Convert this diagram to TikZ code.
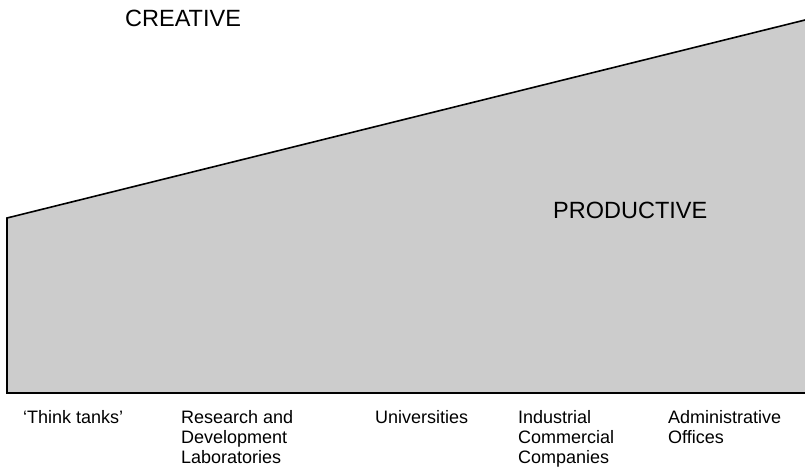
\documentclass[tikz,border=0pt]{standalone}
\usepackage{fontspec}
\setmainfont{Liberation Sans}
\usepackage{tikz}

\begin{document}
\begin{tikzpicture}[x=1pt,y=-1pt,
  lbl/.style={anchor=base west,inner sep=0pt,align=left,
    font=\fontsize{18}{20}\selectfont},
  big/.style={anchor=base west,inner sep=0pt,font=\fontsize{23.5}{27}\selectfont}]
\useasboundingbox (0,0) rectangle (805,471);
\fill[black!20] (7,393) -- (7,218) -- (805,20) -- (805,393) -- cycle;
\draw[line width=1.6pt] (805,393) -- (7,393) -- (7,218) -- (805,20);
\node[big] (creative) at (125,27) {CREATIVE};
\node[big] (productive) at (553,218) {PRODUCTIVE};
% multi-line labels sit on the baseline of their last line
\node[lbl] (think) at (23,423) {`Think tanks'};
\node[lbl] (research) at (181,463) {Research and\\Development\\Laboratories};
\node[lbl] (univ) at (375,423) {Universities};
\node[lbl] (industrial) at (518,463) {Industrial\\Commercial\\Companies};
\node[lbl] (admin) at (668,443) {Administrative\\Offices};
\end{tikzpicture}
\end{document}
